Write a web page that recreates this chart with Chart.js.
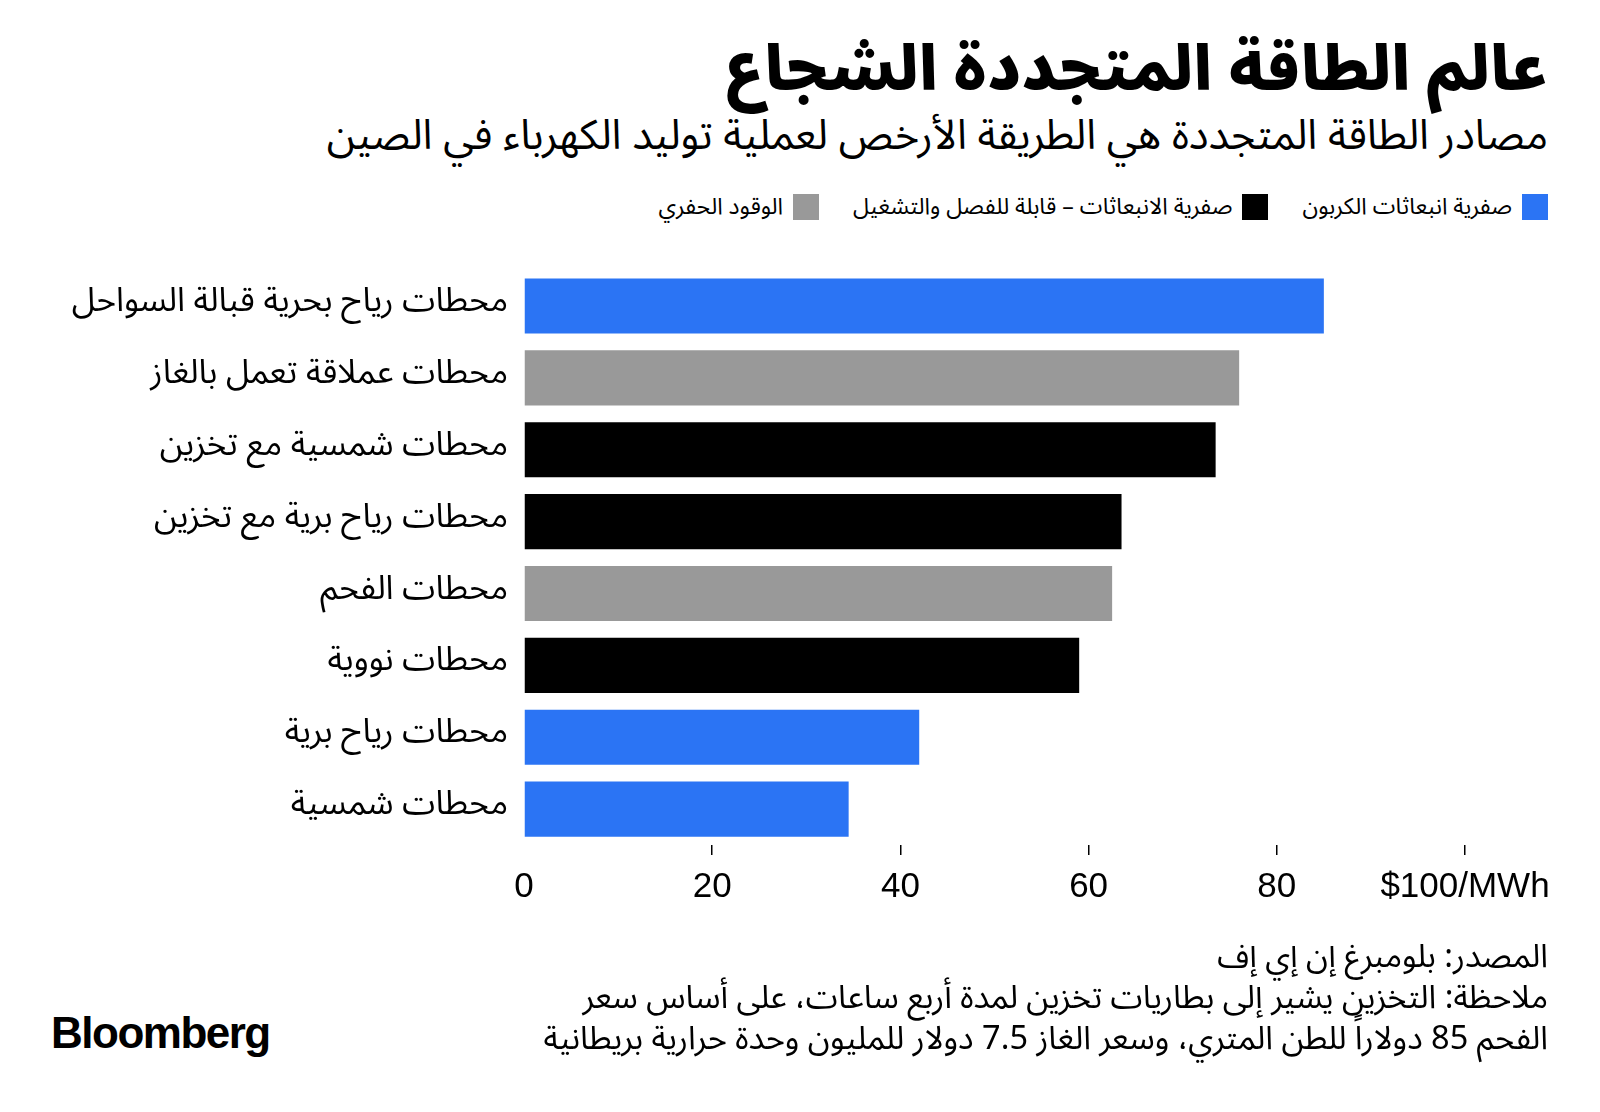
<!DOCTYPE html>
<html lang="ar">
<head>
<meta charset="utf-8">
<script src="https://cdn.jsdelivr.net/npm/chart.js@4.4.1/dist/chart.umd.min.js"></script>
<style>
  html, body { margin: 0; padding: 0; background: #fff; }
  body { width: 1600px; height: 1112px; position: relative; overflow: hidden;
         font-family: "Noto Sans Arabic", "Noto Naskh Arabic", "DejaVu Sans", sans-serif; color: #000; }
  .rtl { direction: rtl; position: absolute; right: 52px; text-align: right; white-space: nowrap; }
  #title { top: 30px; font-size: 61.5px; font-weight: 900; line-height: 80px; }
  #subtitle { top: 110px; font-size: 41.5px; line-height: 52px; }
  #legend { top: 192px; display: flex; gap: 34px; font-size: 23px; line-height: 30px; }
  #legend .item { display: flex; align-items: center; gap: 10px; }
  #legend .sw { width: 26px; height: 26px; display: inline-block; }
  #chartWrap { position: absolute; left: 0; top: 242px; width: 1600px; height: 688px; }
  #footer { top: 936px; font-size: 32.5px; line-height: 41px; }
  #logo { position: absolute; left: 51px; top: 1007px; font-family: "Liberation Sans", Arial, sans-serif;
          font-weight: 700; font-size: 44px; letter-spacing: -1.5px; line-height: 52px; }
</style>
</head>
<body>
<div id="title" class="rtl"></div>
<div id="subtitle" class="rtl"></div>
<div id="legend" class="rtl"></div>
<div id="chartWrap"><canvas id="chart"></canvas></div>
<div id="footer" class="rtl"></div>
<div id="logo">Bloomberg</div>

<script>
const titleText = "عالم الطاقة المتجددة الشجاع";
const subtitleText = "مصادر الطاقة المتجددة هي الطريقة الأرخص لعملية توليد الكهرباء في الصين";

// categories (top to bottom)
const categories = [
  "محطات رياح بحرية قبالة السواحل",
  "محطات عملاقة تعمل بالغاز",
  "محطات شمسية مع تخزين",
  "محطات رياح برية مع تخزين",
  "محطات الفحم",
  "محطات نووية",
  "محطات رياح برية",
  "محطات شمسية",
];
// $/MWh
const costs = [85, 76, 73.5, 63.5, 62.5, 59, 42, 34.5];
// 0 = zero-carbon, 1 = zero-emission dispatchable, 2 = fossil
const groups = [0, 2, 1, 1, 2, 1, 0, 0];

const groupNames = [
  "صفرية انبعاثات الكربون",
  "صفرية الانبعاثات – قابلة للفصل والتشغيل",
  "الوقود الحفري",
];
const groupColors = ["#2b74f4", "#000000", "#999999"];

const xTicks = [0, 20, 40, 60, 80, 100];

const footerLines = [
  "المصدر: بلومبرغ إن إي إف",
  "ملاحظة: التخزين يشير إلى بطاريات تخزين لمدة أربع ساعات، على أساس سعر",
  "الفحم 85 دولاراً للطن المتري، وسعر الغاز 7.5 دولار للمليون وحدة حرارية بريطانية",
];

document.getElementById("title").textContent = titleText;
document.getElementById("subtitle").textContent = subtitleText;
document.getElementById("footer").innerHTML = footerLines.join("<br>");

const legendEl = document.getElementById("legend");
groupNames.forEach((name, i) => {
  const item = document.createElement("div");
  item.className = "item";
  item.innerHTML = `<span class="sw" style="background:${groupColors[i]}"></span><span>${name}</span>`;
  legendEl.appendChild(item);
});

const ctx = document.getElementById("chart").getContext("2d");
new Chart(ctx, {
  type: "bar",
  data: {
    labels: categories,
    datasets: [
      {
        data: costs,
        backgroundColor: groups.map((g) => groupColors[g]),
        borderWidth: 0,
        categoryPercentage: 1,
        barPercentage: 0.767,
      },
    ],
  },
  options: {
    indexAxis: "y",
    responsive: true,
    maintainAspectRatio: false,
    animation: false,
    layout: { padding: { top: 0, right: 135, bottom: 11, left: 0 } },
    plugins: { legend: { display: false }, tooltip: { enabled: false } },
    scales: {
      x: {
        min: 0,
        max: 100,
        afterBuildTicks: (scale) => {
          scale.ticks = xTicks.map((v) => ({ value: v }));
        },
        border: { display: false },
        grid: {
          drawOnChartArea: false,
          drawTicks: true,
          tickLength: 10,
          lineWidth: 1.5,
          color: (c) => (c.tick && c.tick.value === 0 ? "rgba(0,0,0,0)" : "#000"),
        },
        ticks: {
          padding: 11,
          color: "#000",
          font: { family: "Liberation Sans, Arial, sans-serif", size: 35 },
          maxRotation: 0,
          callback: (v) => (v === 100 ? "$100/MWh" : String(v)),
        },
      },
      y: {
        border: { display: false },
        grid: { display: false },
        afterFit: (scale) => {
          scale.width = 524;
        },
        ticks: {
          padding: 8,
          color: "#000",
          font: { family: "Noto Sans Arabic, Noto Naskh Arabic, DejaVu Sans, sans-serif", size: 33.5 },
        },
      },
    },
  },
});
</script>
</body>
</html>
